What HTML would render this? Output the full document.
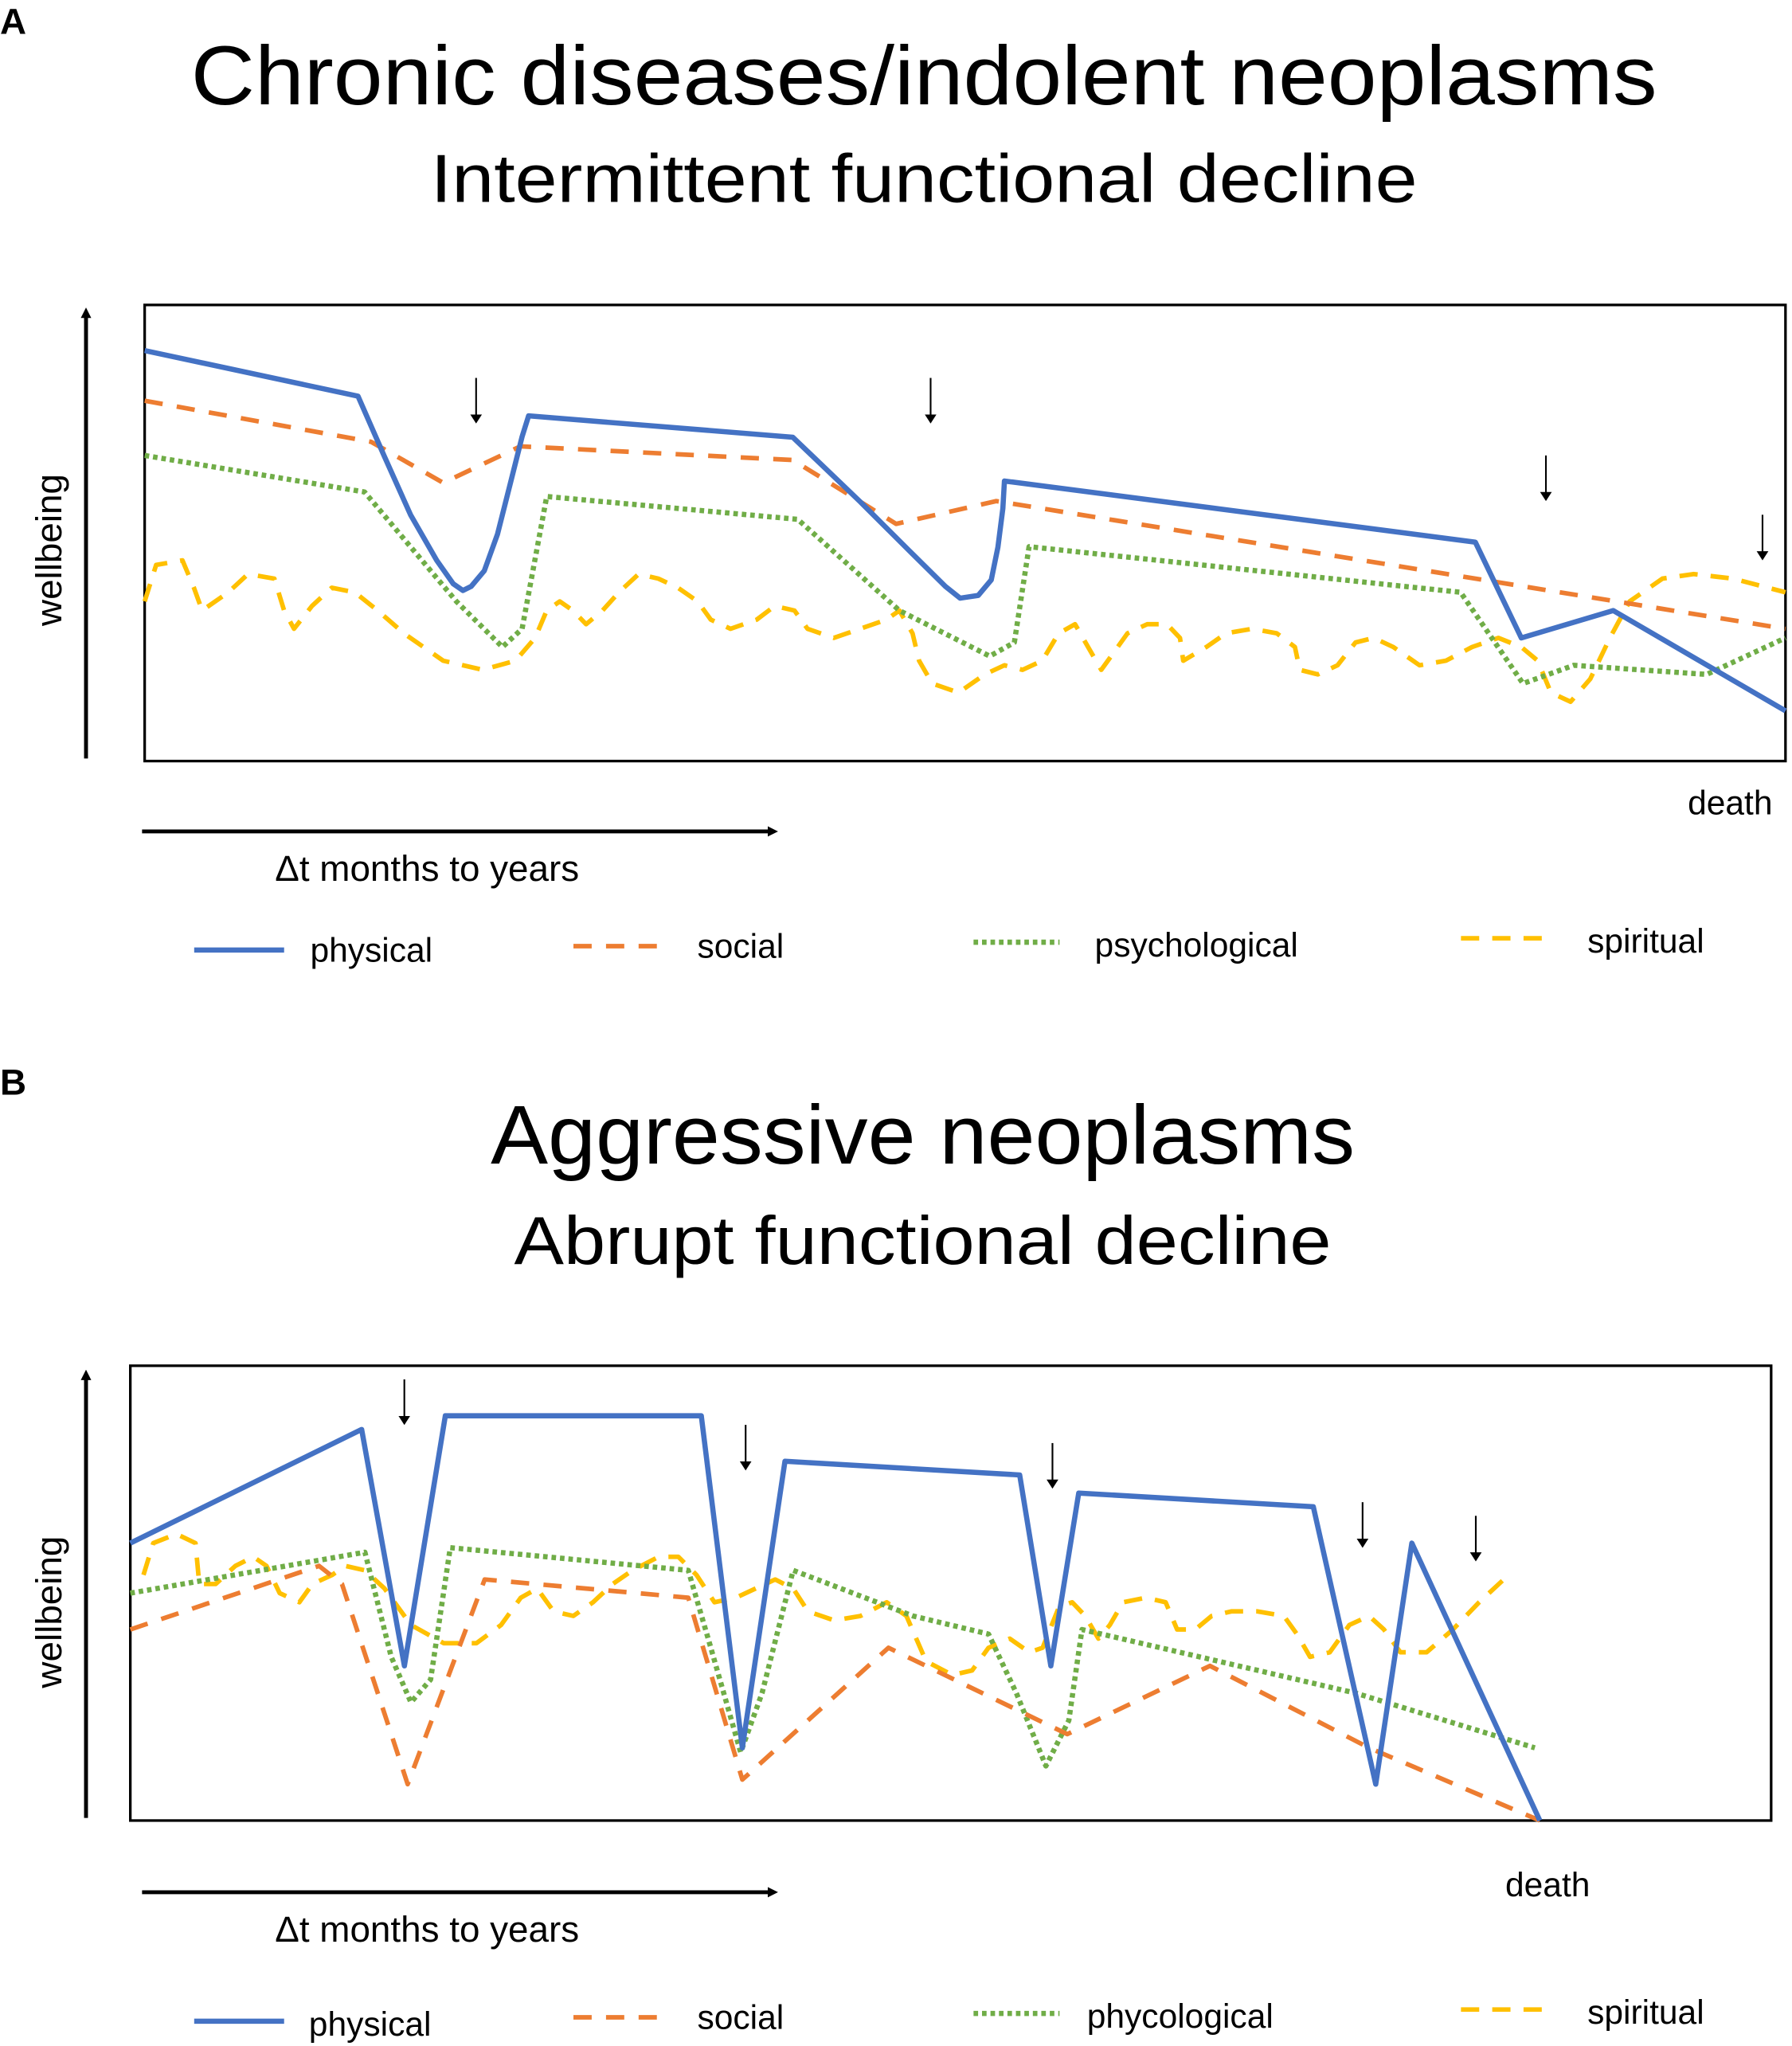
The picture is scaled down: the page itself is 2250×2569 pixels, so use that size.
<!DOCTYPE html>
<html><head><meta charset="utf-8"><style>
html,body{margin:0;padding:0;background:#fff;}
svg{display:block;font-family:"Liberation Sans","DejaVu Sans",sans-serif;}
</style></head><body>
<svg id="fig" width="2250" height="2569" viewBox="0 0 1375 1570" preserveAspectRatio="none" xmlns="http://www.w3.org/2000/svg">
<defs><marker id="ah" markerWidth="8" markerHeight="8" refX="4" refY="4" orient="auto" markerUnits="userSpaceOnUse"><path d="M0,0 L8,4 L0,8 z" fill="#000"/></marker>
<marker id="ahs" markerWidth="7" markerHeight="9" refX="6" refY="4.5" orient="auto" markerUnits="userSpaceOnUse"><path d="M0,0 L7,4.5 L0,9 z" fill="#000"/></marker></defs>

<text x="0" y="26" font-size="28" font-weight="bold">A</text>
<text x="709" y="80" font-size="64" text-anchor="middle" textLength="1125" lengthAdjust="spacingAndGlyphs">Chronic diseases/indolent neoplasms</text>
<text x="709" y="155" font-size="52" text-anchor="middle" textLength="757" lengthAdjust="spacingAndGlyphs">Intermittent functional decline</text>
<rect x="111" y="234" width="1259" height="350" fill="none" stroke="#000" stroke-width="2"/>
<line x1="66" y1="582" x2="66" y2="240" stroke="#000" stroke-width="3" marker-end="url(#ah)"/>
<text transform="translate(47,422) rotate(-90)" font-size="28" text-anchor="middle">wellbeing</text>
<text x="1295" y="625" font-size="26">death</text>
<line x1="109" y1="638" x2="593" y2="638" stroke="#000" stroke-width="3" marker-end="url(#ah)"/>
<text x="211" y="676" font-size="28">Δt months to years</text>
<g id="legA">
<line x1="149" y1="729" x2="218" y2="729" stroke="#4472C4" stroke-width="4"/>
<text x="238" y="738" font-size="26">physical</text>
<line x1="440" y1="726" x2="510" y2="726" stroke="#ED7D31" stroke-width="3.5" stroke-dasharray="14 11"/>
<text x="535" y="735" font-size="26">social</text>
<line x1="747" y1="723" x2="813" y2="723" stroke="#70AD47" stroke-width="4" stroke-dasharray="3.5 3"/>
<text x="840" y="734" font-size="26">psychological</text>
<line x1="1121" y1="720" x2="1190" y2="720" stroke="#FFC000" stroke-width="3.5" stroke-dasharray="14 10"/>
<text x="1218" y="731" font-size="26">spiritual</text>
</g>
<g id="plotA"></g>

<text x="0" y="840" font-size="28" font-weight="bold">B</text>
<text x="708" y="893" font-size="64" text-anchor="middle" textLength="663" lengthAdjust="spacingAndGlyphs">Aggressive neoplasms</text>
<text x="708" y="970" font-size="52" text-anchor="middle" textLength="627" lengthAdjust="spacingAndGlyphs">Abrupt functional decline</text>
<rect x="100" y="1048" width="1259" height="349" fill="none" stroke="#000" stroke-width="2"/>
<line x1="66" y1="1395" x2="66" y2="1055" stroke="#000" stroke-width="3" marker-end="url(#ah)"/>
<text transform="translate(47,1237) rotate(-90)" font-size="28" text-anchor="middle">wellbeing</text>
<text x="1155" y="1455" font-size="26">death</text>
<line x1="109" y1="1452" x2="593" y2="1452" stroke="#000" stroke-width="3" marker-end="url(#ah)"/>
<text x="211" y="1490" font-size="28">Δt months to years</text>
<g id="legB">
<line x1="149" y1="1551" x2="218" y2="1551" stroke="#4472C4" stroke-width="4"/>
<text x="237" y="1562" font-size="26">physical</text>
<line x1="440" y1="1548" x2="510" y2="1548" stroke="#ED7D31" stroke-width="3.5" stroke-dasharray="14 11"/>
<text x="535" y="1557" font-size="26">social</text>
<line x1="747" y1="1545" x2="813" y2="1545" stroke="#70AD47" stroke-width="4" stroke-dasharray="3.5 3"/>
<text x="834" y="1556" font-size="26">phycological</text>
<line x1="1121" y1="1542" x2="1190" y2="1542" stroke="#FFC000" stroke-width="3.5" stroke-dasharray="14 10"/>
<text x="1218" y="1553" font-size="26">spiritual</text>
</g>
<g id="plotB"></g>
</svg>
<script>
// Panel A data (t: 0-100 time, w: 0-100 wellbeing)
const aPhysT=[0,13,14.6,16.2,17.8,18.8,19.4,19.9,20.7,21.5,22.3,23,23.4,39.5,43.6,46.8,48.8,49.7,50.8,51.6,52,52.3,52.4,81.1,83.9,89.5,100];
const aPhysW=[90,80,66.9,54,44,38.9,37.4,38.3,41.7,49.7,61.1,71.1,75.7,71,56.9,45.4,38.3,35.7,36.3,39.7,46.9,55.4,61.4,48,27,33,11];
const aSocT=[0,13.8,18.2,22.9,39.5,45.8,51.9,100];
const aSocW=[79,70,61,69,66,52,57,29];
const aPsyT=[0,13.4,19,21.8,23,24.5,39.8,46,51.5,53,53.9,80.2,84,87.1,95.2,100];
const aPsyW=[67,59,35,25,29,58,53,33,23,26,47,37,17,21,19,27];
const aSpiT=[0,0.7,2.3,3,3.5,5.1,6.3,7.9,8.5,9.1,10.2,11.4,12.8,14.2,15.8,18.2,20.6,22.6,23.8,24.5,25.3,26.1,26.9,27.9,28.9,30.1,31.3,32.5,33.7,34.5,35.7,37.3,38.4,39.6,40.4,42,43.6,45.2,46,46.8,47.2,48,49.6,51.2,52.4,53.5,54.7,55.7,56.7,57.5,58.3,59.1,59.9,61.1,62.3,63.1,63.3,64.7,65.9,67.5,69,70.1,70.4,71.5,72.7,73.8,74.9,76.1,77.7,79.3,80.9,82.5,83.9,84.9,85.7,86.9,88.1,89.3,90.5,92.5,94.4,96.8,100];
const aSpiW=[35,43,44,38,33,37,41,40,33,29,34,38,37,33,28,22,20,22,27,33,35,33,30,33,37,41,40,38,35,31,29,31,34,33,29,27,29,31,33,28,22,17,15,19,21,20,22,28,30,25,20,24,28,30,30,27,22,25,28,29,28,25,20,19,21,26,27,25,21,22,25,27,25,22,15,13,18,27,35,40,41,40,37];
const aArrowT=[20.2,47.9,85.4,98.6];
const aArrowW=[84,84,67,54];
// Panel B data
const bPhysT=[0,14.1,16.7,19.2,34.8,37.3,39.9,54.2,56.1,57.8,72.1,75.9,78.1,85.9];
const bPhysW=[61,86,34,89,89,16,79,76,34,72,69,8,61,0];
const bSocT=[0,11.5,12.9,16.9,21.6,34,37.3,46.2,57.1,65.8,75.5,85.9];
const bSocW=[42,56,52,8,53,49,9,38,19,34,16,0];
const bPsyT=[0,14.3,15.9,17.1,18.3,19.5,34,35.3,37.2,38.5,40.4,47.7,52.3,54,55.8,57.2,58,74.7,85.6];
const bPsyW=[50,59,36,26,31,60,55,39,15,28,55,45,41,28,12,22,42,28,16];
const bSpiT=[0.8,1.4,2.8,3.97,4.2,5.2,6.4,7.5,8.3,9.1,10.3,11.1,12.3,13.1,14.3,15.5,17.1,19.1,21.1,22.6,23.8,24.8,25.8,27,28.2,29.4,30.6,32.2,33.4,34.5,35.6,36.9,38.1,39.3,40.4,41.3,42.9,44.5,46.1,47.3,48.5,50.1,51.3,52.3,53.6,54.8,55.6,56.6,57.4,58.2,59,59.7,60.5,61.9,63.1,63.8,64.9,65.9,67.1,68.7,70.3,71.1,71.9,73.1,74.3,75.5,76.4,77.4,79,80.6,82.2,84];
const bSpiW=[54,61,63,61,52,52,56,58,56,50,48,52,54,56,55,51,43,39,39,43,49,51,46,45,48,52,55,58,58,54,48,49,51,53,51,46,44,45,48,45,35,32,33,38,40,37,38,47,48,45,40,43,48,49,48,42,42,45,46,46,45,41,36,37,43,45,42,37,37,42,48,54];
const bArrowT=[16.7,37.5,56.2,75.1,82];
const bArrowW=[97,87,83,70,67];

const NS='http://www.w3.org/2000/svg';
function makeScales(x0,y0,w,h){return {x:t=>x0+t/100*w,y:v=>y0+h-v/100*h};}
const sA=makeScales(111,234,1259,350);
const sB=makeScales(100,1048,1259,349);
const styles={
 physical:{stroke:'#4472C4',w:4,dash:''},
 social:{stroke:'#ED7D31',w:3.5,dash:'14 11'},
 psychological:{stroke:'#70AD47',w:4,dash:'3.5 3'},
 spiritual:{stroke:'#FFC000',w:3.5,dash:'14 10'}
};
function drawLine(g,s,T,W,kind,name){
 const p=document.createElementNS(NS,'path');
 let d='';
 for(let i=0;i<T.length;i++){d+=(i?'L':'M')+s.x(T[i]).toFixed(1)+','+s.y(W[i]).toFixed(1);}
 p.setAttribute('d',d);
 const st=styles[kind];
 p.setAttribute('fill','none');p.setAttribute('stroke',st.stroke);p.setAttribute('stroke-width',st.w);
 p.setAttribute('stroke-linejoin','round');
 if(st.dash)p.setAttribute('stroke-dasharray',st.dash);
 
 
 g.appendChild(p);
}
function drawArrows(g,s,T,W){
 for(let i=0;i<T.length;i++){
  const l=document.createElementNS(NS,'line');
  const x=s.x(T[i]),y=s.y(W[i]);
  l.setAttribute('x1',x);l.setAttribute('x2',x);l.setAttribute('y1',y);l.setAttribute('y2',y+34);
  l.setAttribute('stroke','#000');l.setAttribute('stroke-width','1.3');l.setAttribute('marker-end','url(#ahs)');
  
  
  g.appendChild(l);
 }
}
const gA=document.getElementById('plotA'),gB=document.getElementById('plotB');
drawLine(gA,sA,aSpiT,aSpiW,'spiritual','spiritual-line-a');
drawLine(gA,sA,aPsyT,aPsyW,'psychological','psychological-line-a');
drawLine(gA,sA,aSocT,aSocW,'social','social-line-a');
drawLine(gA,sA,aPhysT,aPhysW,'physical','physical-line-a');
drawArrows(gA,sA,aArrowT,aArrowW);
drawLine(gB,sB,bSpiT,bSpiW,'spiritual','spiritual-line-b');
drawLine(gB,sB,bPsyT,bPsyW,'psychological','psychological-line-b');
drawLine(gB,sB,bSocT,bSocW,'social','social-line-b');
drawLine(gB,sB,bPhysT,bPhysW,'physical','physical-line-b');
drawArrows(gB,sB,bArrowT,bArrowW);
</script>
</body></html>
